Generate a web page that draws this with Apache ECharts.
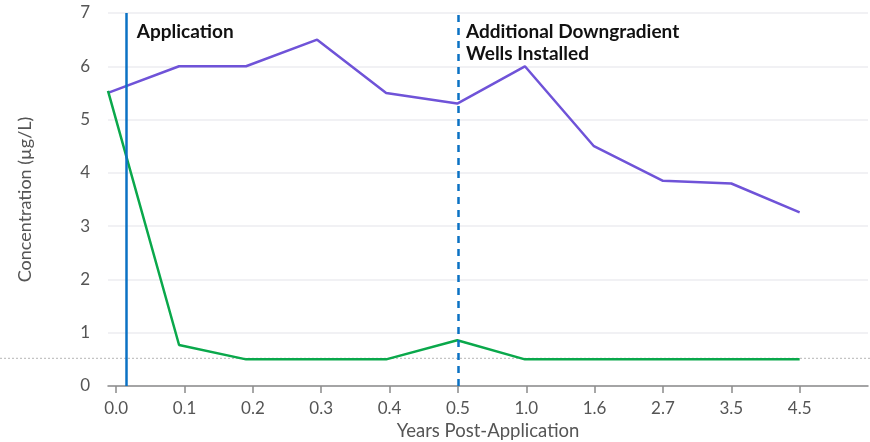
<!DOCTYPE html>
<html>
<head>
<meta charset="utf-8">
<script src="https://cdn.jsdelivr.net/npm/echarts@6/dist/echarts.min.js"></script>
<style>
  html, body { margin: 0; padding: 0; background: #fff; }
  #main { width: 870px; height: 442px; }
</style>
</head>
<body>
<div id="main"></div>
<script>
// x axis tick labels (years post-application), evenly spaced
const xLabels = ['0.0', '0.1', '0.2', '0.3', '0.4', '0.5', '1.0', '1.6', '2.7', '3.5', '4.5']
// where each sample sits along the axis (in tick units)
const sampleX = [-0.12, 0.92, 1.9, 2.94, 3.95, 4.99, 5.98, 6.99, 8, 9, 10]
const purpleVals = [5.5, 6.0, 6.0, 6.5, 5.5, 5.3, 6.0, 4.5, 3.85, 3.8, 3.26]
const greenVals = [5.54, 0.77, 0.5, 0.5, 0.5, 0.86, 0.5, 0.5, 0.5, 0.5, 0.5]
const yTicks = [0, 1, 2, 3, 4, 5, 6, 7]
const applicationX = 0.155
const wellsX = 5
const refLevel = 0.52

const tickPos = xLabels.map((l, i) => i)
const FONT = 'Lato'

const chart = echarts.init(document.getElementById('main'))

const option = {
  animation: false,
  textStyle: { fontFamily: FONT },
  grid: { left: 108, right: 2, top: 13, bottom: 56, containLabel: false, outerBoundsMode: 'none' },
  xAxis: {
    type: 'value',
    min: sampleX[0],
    max: 11,
    name: 'Years Post-Application',
    nameLocation: 'middle',
    nameGap: 31,
    nameTextStyle: { color: '#555', fontSize: 18.5, fontFamily: FONT },
    splitLine: { show: false },
    axisLine: { show: true, lineStyle: { color: '#8a8a8a', width: 1.5 } },
    axisTick: { show: true, length: 7, customValues: tickPos, lineStyle: { color: '#8a8a8a', width: 1.5 } },
    axisLabel: {
      customValues: tickPos,
      color: '#555',
      fontSize: 17,
      fontFamily: FONT,
      margin: 14,
      formatter: v => xLabels[Math.round(v)]
    }
  },
  yAxis: {
    type: 'value',
    min: yTicks[0],
    max: yTicks[yTicks.length - 1],
    interval: 1,
    name: 'Concentration (µg/L)',
    nameLocation: 'middle',
    nameGap: 74,
    nameTextStyle: { color: '#555', fontSize: 18, fontFamily: FONT },
    axisLine: { show: false },
    axisTick: { show: false },
    splitLine: { lineStyle: { color: '#ececf0', width: 1.5 } },
    axisLabel: { color: '#555', fontSize: 17, fontFamily: FONT, margin: 18 }
  },
  series: [
    {
      name: 'purple',
      type: 'line',
      data: sampleX.map((x, i) => [x, purpleVals[i]]),
      symbol: 'none',
      lineStyle: { color: '#6f53d8', width: 2.5 },
      z: 3
    },
    {
      name: 'green',
      type: 'line',
      data: sampleX.map((x, i) => [x, greenVals[i]]),
      symbol: 'none',
      lineStyle: { color: '#0aa84b', width: 2.5 },
      z: 3,
      markLine: {
        silent: true,
        symbol: 'none',
        label: { show: false },
        data: [
          { xAxis: applicationX, lineStyle: { color: '#0b72c4', width: 2.5, type: 'solid' } },
          { xAxis: wellsX, lineStyle: { color: '#0b72c4', width: 2.5, type: [7, 6] } }
        ]
      }
    }
  ]
}
chart.setOption(option)

// dotted reference line runs across the whole picture, labels sit beside the vertical lines
const refY = chart.convertToPixel({ yAxisIndex: 0 }, refLevel)
const appPx = chart.convertToPixel({ xAxisIndex: 0 }, applicationX)
const wellsPx = chart.convertToPixel({ xAxisIndex: 0 }, wellsX)
const topPx = chart.convertToPixel({ yAxisIndex: 0 }, yTicks[yTicks.length - 1])

chart.setOption({
  graphic: [
    {
      type: 'line',
      z: 1,
      shape: { x1: 0, y1: refY, x2: 870, y2: refY },
      style: { stroke: '#b5b5b5', lineWidth: 1, lineDash: [2, 2] }
    },
    {
      type: 'text',
      x: appPx + 10,
      y: topPx + 8,
      style: { text: 'Application', font: 'bold 19px Lato', fill: '#111', lineHeight: 22 }
    },
    {
      type: 'text',
      x: wellsPx + 8,
      y: topPx + 8,
      style: { text: 'Additional Downgradient\nWells Installed', font: 'bold 19px Lato', fill: '#111', lineHeight: 22 }
    }
  ]
})
</script>
</body>
</html>
